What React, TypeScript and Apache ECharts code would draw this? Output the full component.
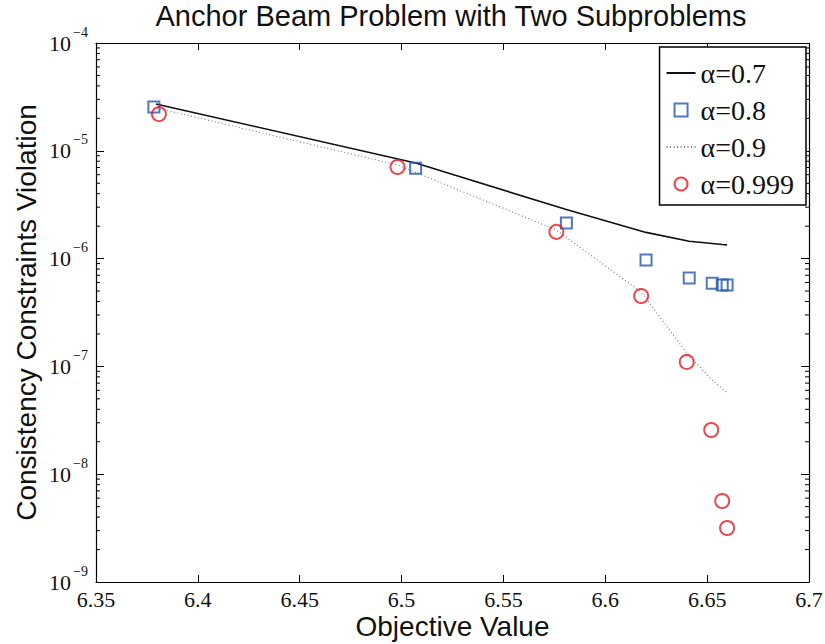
import React, { useEffect, useRef } from "react";
import * as echarts from "echarts";

const titleText = "Anchor Beam Problem with Two Subproblems";
const xAxisTitle = "Objective Value";
const yAxisTitle = "Consistency Constraints Violation";

const seriesNames = ["α=0.7", "α=0.8", "α=0.9", "α=0.999"];

// α=0.7 (solid line)
const x07 = [6.3794, 6.5069, 6.5809, 6.62, 6.6412, 6.6525, 6.6574, 6.6598];
const y07 = [2.72e-5, 7.7e-6, 2.85e-6, 1.75e-6, 1.45e-6, 1.38e-6, 1.35e-6, 1.34e-6];

// α=0.8 (squares)
const x08 = [6.3784, 6.5069, 6.5809, 6.62, 6.6412, 6.6525, 6.6574, 6.6598];
const y08 = [2.55e-5, 6.9e-6, 2.14e-6, 9.7e-7, 6.6e-7, 5.9e-7, 5.7e-7, 5.7e-7];

// α=0.9 (dotted line)
const x09 = [6.3799, 6.498, 6.576, 6.6176, 6.64, 6.652, 6.6598];
const y09 = [2.49e-5, 7.4e-6, 1.84e-6, 4.9e-7, 1.33e-7, 7.6e-8, 5.67e-8];

// α=0.999 (circles)
const x0999 = [6.3809, 6.498, 6.576, 6.6176, 6.64, 6.652, 6.6574, 6.6598];
const y0999 = [2.19e-5, 7.08e-6, 1.77e-6, 4.5e-7, 1.1e-7, 2.57e-8, 5.64e-9, 3.17e-9];

const xMin = 6.35;
const xMax = 6.7;
const xStep = 0.05;
const yMin = 1e-9;
const yMax = 1e-4;
const decadeExponents = [-9, -8, -7, -6, -5];
const minorMultipliers = [2, 3, 4, 5, 6, 7, 8, 9];
const tickBase = "10";

const zip = (xs: number[], ys: number[]) => xs.map((x, i) => [x, ys[i]]);

export default function App() {
  const ref = useRef<HTMLDivElement>(null);
  useEffect(() => {
    document.body.style.margin = "0";
    if (!ref.current) return;
    const chart = echarts.init(ref.current, undefined, { renderer: "svg" });
    const minorData: number[][] = [];
    decadeExponents.forEach((e) =>
      minorMultipliers.forEach((m) => minorData.push([xMin, m * Math.pow(10, e)]))
    );
    const serif = "Liberation Serif";
    const sans = "Liberation Sans";
    const blue = "#2356ae";
    const red = "#e8191f";
    const hiddenLog = (extra: any) => ({
      type: "log",
      logBase: 10,
      min: yMin,
      max: yMax,
      splitLine: { show: false },
      ...extra,
    });
    const option: any = {
      animation: false,
      backgroundColor: "#fff",
      title: {
        text: titleText,
        left: 451,
        textAlign: "center",
        top: 0,
        padding: 0,
        textStyle: { fontFamily: sans, fontSize: 29, fontWeight: "normal", color: "#111", lineHeight: 31 },
      },
      grid: { left: 96, right: 16, top: 43, bottom: 62, containLabel: false, outerBoundsMode: "none" },
      legend: {
        orient: "vertical",
        right: 19,
        top: 47,
        data: [
          { name: seriesNames[0], itemStyle: { color: "rgba(0,0,0,0)", borderWidth: 0 } },
          { name: seriesNames[1], icon: "path://M0,0H13V13H0Z" },
          { name: seriesNames[2], itemStyle: { color: "rgba(0,0,0,0)", borderWidth: 0 } },
          { name: seriesNames[3], icon: "circle" },
        ],
        backgroundColor: "#fff",
        borderColor: "#000",
        borderWidth: 1.5,
        borderRadius: 0,
        padding: [12, 12, 7, 6],
        itemGap: 9,
        itemWidth: 29,
        itemHeight: 13,
        symbolKeepAspect: true,
        textStyle: { fontFamily: serif, fontSize: 28, color: "#111", lineHeight: 26 },
      },
      xAxis: [
        {
          type: "value",
          min: xMin,
          max: xMax,
          interval: xStep,
          name: xAxisTitle,
          nameLocation: "middle",
          nameGap: 30,
          nameMoveOverlap: false,
          nameTextStyle: { fontFamily: sans, fontSize: 28, color: "#111", lineHeight: 28 },
          axisLine: { lineStyle: { color: "#000", width: 1.2 } },
          axisTick: { inside: true, length: 7, lineStyle: { color: "#000" } },
          axisLabel: { fontFamily: serif, fontSize: 22, color: "#111", margin: 6, lineHeight: 22 },
          splitLine: { show: false },
        },
        {
          type: "value",
          position: "top",
          min: xMin,
          max: xMax,
          interval: xStep,
          axisLine: { show: true, lineStyle: { color: "#000", width: 1.2 } },
          axisTick: { show: true, inside: true, length: 7, lineStyle: { color: "#000" } },
          axisLabel: { show: false },
          splitLine: { show: false },
        },
      ],
      yAxis: [
        hiddenLog({
          name: yAxisTitle,
          nameLocation: "middle",
          nameGap: 56,
          nameMoveOverlap: false,
          nameRotate: 90,
          nameTextStyle: { fontFamily: sans, fontSize: 28, color: "#111" },
          axisLine: { show: true, lineStyle: { color: "#000", width: 1.2 } },
          axisTick: { show: true, inside: true, length: 8, lineStyle: { color: "#000" } },
          axisLabel: {
            margin: 25,
            fontFamily: serif,
            fontSize: 22,
            color: "#111",
            verticalAlign: "middle",
            padding: [8, 0, 0, 0],
            formatter: () => tickBase,
          },
        }),
        hiddenLog({
          position: "right",
          axisLine: { show: true, lineStyle: { color: "#000", width: 1.2 } },
          axisTick: { show: true, inside: true, length: 8, lineStyle: { color: "#000" } },
          axisLabel: { show: false },
        }),
        hiddenLog({
          position: "left",
          axisLine: { show: false },
          axisTick: { show: false },
          axisLabel: {
            margin: 23,
            align: "left",
            verticalAlign: "bottom",
            lineHeight: 14,
            fontFamily: serif,
            fontSize: 14,
            color: "#111",
            padding: [0, 0, 4, 0],
            formatter: (v: number) => `−${-Math.round(Math.log10(v))}`,
          },
        }),
      ],
      series: [
        {
          name: "minorTicks",
          type: "custom",
          silent: true,
          xAxisIndex: 0,
          yAxisIndex: 0,
          data: minorData,
          renderItem: (params: any, api: any) => {
            const v = api.value(1);
            const l = api.coord([xMin, v]);
            const r = api.coord([xMax, v]);
            const style = { stroke: "#000", lineWidth: 1 };
            return {
              type: "group",
              children: [
                { type: "line", shape: { x1: l[0], y1: l[1], x2: l[0] + 4, y2: l[1] }, style },
                { type: "line", shape: { x1: r[0], y1: r[1], x2: r[0] - 4, y2: r[1] }, style },
              ],
            };
          },
          z: 1,
        },
        {
          name: seriesNames[0],
          type: "line",
          data: zip(x07, y07),
          symbol: "none",
          lineStyle: { color: "#111", width: 1.6 },
          itemStyle: { color: "#111" },
          z: 2,
        },
        {
          name: seriesNames[1],
          type: "scatter",
          data: zip(x08, y08),
          symbol: "rect",
          symbolSize: 11,
          itemStyle: { color: "rgba(255,255,255,0)", borderColor: blue, borderWidth: 2 },
          z: 4,
        },
        {
          name: seriesNames[2],
          type: "line",
          data: zip(x09, y09),
          symbol: "none",
          lineStyle: { color: "#777", width: 1.1, type: [1, 2.5] },
          itemStyle: { color: "#777" },
          z: 2,
        },
        {
          name: seriesNames[3],
          type: "scatter",
          data: zip(x0999, y0999),
          symbol: "circle",
          symbolSize: 14,
          itemStyle: { color: "rgba(255,255,255,0)", borderColor: red, borderWidth: 2 },
          z: 4,
        },
      ],
    };
    chart.setOption(option);
    return () => chart.dispose();
  }, []);
  return <div ref={ref} style={{ width: 825, height: 644 }} />;
}
